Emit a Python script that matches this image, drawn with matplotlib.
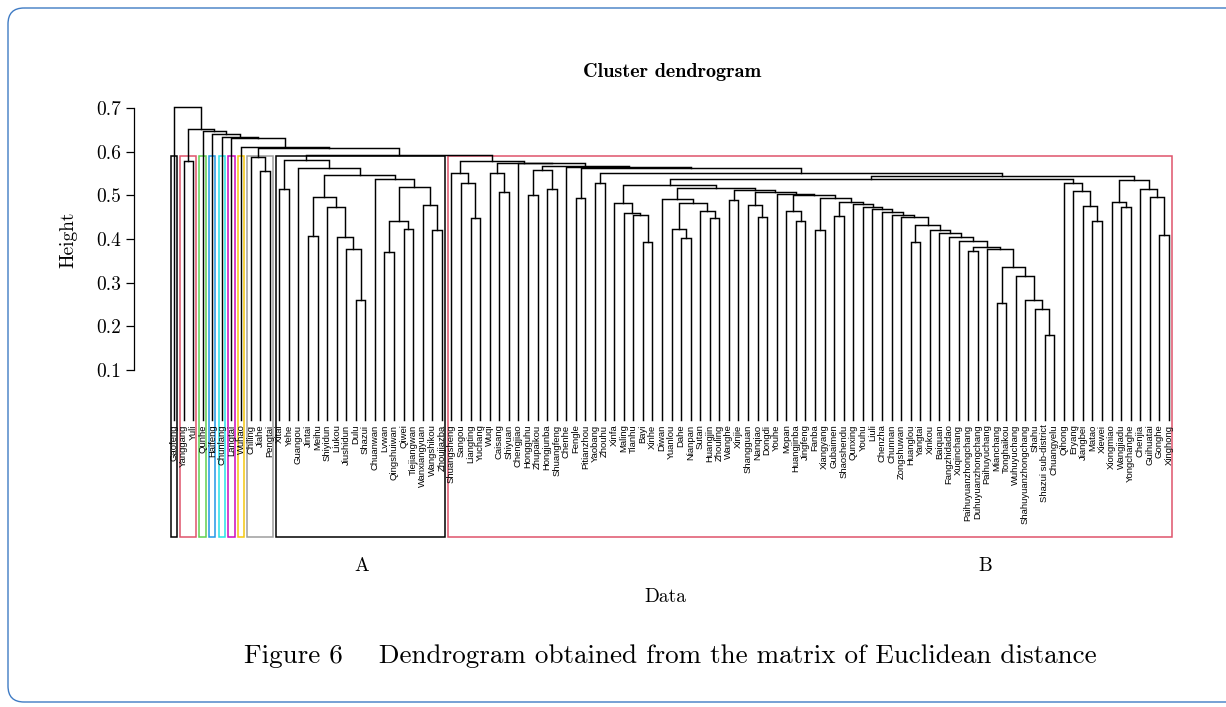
import matplotlib
matplotlib.use("Agg")
import matplotlib.pyplot as plt
from matplotlib.patches import FancyBboxPatch, Rectangle

# leaf order as drawn, left to right
leaves = [
    "Gaofeng", "Yanggang", "Yuli", "Qunhe", "Haifeng", "Chunlang", "Langtai", "Wuhao",
    "Chiling", "Jiahe", "Pengtai",
    "Xitai", "Yehe", "Guangou", "Jintai", "Meihu", "Shiyidun", "Liukou", "Jiushidun",
    "Dulu", "Shazui", "Chuanwan", "Lvwan", "Qingshuiwan", "Qiwei", "Tiejiangwan",
    "Wanxiangyuan", "Wangshikou", "Zhoujiazba",
    "Shuangsheng", "Sangou", "Liangting", "Yuchang", "Wuqi", "Caisang", "Shiyuan",
    "Chengjiao", "Hongguhu", "Zhupaikou", "Hongjunba", "Shuangfeng", "Chenhe", "Fengle",
    "Pitianzhou", "Yaobang", "Zhouhu", "Xinfa", "Maling", "Tianhu", "Bayi", "Xinhe",
    "Diwan", "Yuanlou", "Dahe", "Nianpan", "Sutan", "Huangjin", "Zhouling", "Wanghe",
    "Xinjie", "Shangguan", "Nanqiao", "Dongdi", "Youhe", "Mopan", "Huangjinba",
    "Jingfeng", "Fanba", "Xiangyang", "Gubaimen", "Shaoshendu", "Qunxing", "Youhu",
    "Liuli", "Chenzha", "Chunnan", "Zongshuwan", "Huanglou", "Yangtai", "Xinkou",
    "Baiquan", "Fangzhidadao", "Xuqinchang", "Paihuyuanzhongchang",
    "Duhuyuanzhongchang", "Paihuyuchang", "Mianchang", "Tonghaikou", "Wuhuyuchang",
    "Shahuyuanzhongchang", "Shahu", "Shazui sub-district", "Chuangyelu", "Qihong",
    "Eryang", "Jiangbei", "Matao", "Xiewei", "Xiongmiao", "Wangjiadu", "Yongchanghe",
    "Chenjia", "Guihuatai", "Gonghe", "Xinghong",
]

# merges (node, left, right, height), bottom-up
merges = [
    ("yy", "Yanggang", "Yuli", 0.579),
    ("jp", "Jiahe", "Pengtai", 0.556),
    ("g", "Chiling", "jp", 0.587),
    # cluster A
    ("xy", "Xitai", "Yehe", 0.514),
    ("jm", "Jintai", "Meihu", 0.408),
    ("ds", "Dulu", "Shazui", 0.260),
    ("jds", "Jiushidun", "ds", 0.376),
    ("ljds", "Liukou", "jds", 0.405),
    ("sljds", "Shiyidun", "ljds", 0.474),
    ("a3", "jm", "sljds", 0.497),
    ("lq", "Lvwan", "Qingshuiwan", 0.371),
    ("qt", "Qiwei", "Tiejiangwan", 0.423),
    ("lqqt", "lq", "qt", 0.441),
    ("wz", "Wangshikou", "Zhoujiazba", 0.420),
    ("wwz", "Wanxiangyuan", "wz", 0.477),
    ("a5", "lqqt", "wwz", 0.518),
    ("a4", "Chuanwan", "a5", 0.537),
    ("a2", "a3", "a4", 0.547),
    ("a1", "Guangou", "a2", 0.563),
    ("A", "xy", "a1", 0.581),
    # cluster B
    ("ly", "Liangting", "Yuchang", 0.449),
    ("sly", "Sangou", "ly", 0.528),
    ("l1", "Shuangsheng", "sly", 0.552),
    ("cs", "Caisang", "Shiyuan", 0.508),
    ("wcs", "Wuqi", "cs", 0.552),
    ("hz", "Hongguhu", "Zhupaikou", 0.501),
    ("hs", "Hongjunba", "Shuangfeng", 0.514),
    ("hzhs", "hz", "hs", 0.558),
    ("fp", "Fengle", "Pitianzhou", 0.493),
    ("yz", "Yaobang", "Zhouhu", 0.528),
    ("bx", "Bayi", "Xinhe", 0.394),
    ("tbx", "Tianhu", "bx", 0.454),
    ("mtbx", "Maling", "tbx", 0.459),
    ("r11", "Xinfa", "mtbx", 0.482),
    ("dn", "Dahe", "Nianpan", 0.403),
    ("ydn", "Yuanlou", "dn", 0.423),
    ("hzl", "Huangjin", "Zhouling", 0.449),
    ("shz", "Sutan", "hzl", 0.465),
    ("d2", "ydn", "shz", 0.482),
    ("d", "Diwan", "d2", 0.491),
    ("wx", "Wanghe", "Xinjie", 0.489),
    ("nd", "Nanqiao", "Dongdi", 0.451),
    ("snd", "Shangguan", "nd", 0.479),
    ("hj", "Huangjinba", "Jingfeng", 0.441),
    ("m", "Mopan", "hj", 0.463),
    ("fx", "Fanba", "Xiangyang", 0.421),
    ("gs", "Gubaimen", "Shaoshendu", 0.453),
    ("sc", "Shazui sub-district", "Chuangyelu", 0.180),
    ("q12", "Shahu", "sc", 0.239),
    ("q11", "Shahuyuanzhongchang", "q12", 0.260),
    ("q10", "Wuhuyuchang", "q11", 0.315),
    ("mt", "Mianchang", "Tonghaikou", 0.253),
    ("q9", "mt", "q10", 0.337),
    ("q8", "Paihuyuchang", "q9", 0.376),
    ("pd", "Paihuyuanzhongchang", "Duhuyuanzhongchang", 0.372),
    ("q7", "pd", "q8", 0.381),
    ("q6", "Xuqinchang", "q7", 0.396),
    ("q5", "Fangzhidadao", "q6", 0.404),
    ("q4", "Baiquan", "q5", 0.413),
    ("q3", "Xinkou", "q4", 0.421),
    ("hy", "Huanglou", "Yangtai", 0.394),
    ("q2", "hy", "q3", 0.432),
    ("q1", "Zongshuwan", "q2", 0.451),
    ("w6", "Chunnan", "q1", 0.456),
    ("w5", "Chenzha", "w6", 0.461),
    ("w4", "Liuli", "w5", 0.468),
    ("w3", "Youhu", "w4", 0.474),
    ("w2", "Qunxing", "w3", 0.480),
    ("w", "gs", "w2", 0.485),
    ("v", "fx", "w", 0.495),
    ("u", "m", "v", 0.500),
    ("t", "Youhe", "u", 0.504),
    ("s", "snd", "t", 0.507),
    ("z", "wx", "s", 0.512),
    ("r12", "d", "z", 0.516),
    ("r9", "r11", "r12", 0.524),
    ("mx", "Matao", "Xiewei", 0.441),
    ("jmx", "Jiangbei", "mx", 0.476),
    ("ejmx", "Eryang", "jmx", 0.511),
    ("r10", "Qihong", "ejmx", 0.529),
    ("r7", "r9", "r10", 0.537),
    ("wy", "Wangjiadu", "Yongchanghe", 0.474),
    ("xwy", "Xiongmiao", "wy", 0.485),
    ("gx", "Gonghe", "Xinghong", 0.410),
    ("ggx", "Guihuatai", "gx", 0.497),
    ("cggx", "Chenjia", "ggx", 0.514),
    ("r8", "xwy", "cggx", 0.535),
    ("r6", "r7", "r8", 0.544),
    ("r5", "yz", "r6", 0.552),
    ("r5b", "fp", "r5", 0.562),
    ("r4", "Chenhe", "r5b", 0.565),
    ("r3", "hzhs", "r4", 0.567),
    ("r2", "Chengjiao", "r3", 0.573),
    ("r1", "wcs", "r2", 0.575),
    ("B", "l1", "r1", 0.579),
    ("ab", "A", "B", 0.592),
    # chain of single outliers
    ("n8", "g", "ab", 0.608),
    ("n7", "Wuhao", "n8", 0.611),
    ("n6", "Langtai", "n7", 0.632),
    ("n5", "Chunlang", "n6", 0.634),
    ("n4", "Haifeng", "n5", 0.640),
    ("n3", "Qunhe", "n4", 0.648),
    ("n2", "yy", "n3", 0.653),
    ("root", "Gaofeng", "n2", 0.703),
]

# rect.hclust boxes (k = 10)
cluster_sizes = [1, 2, 1, 1, 1, 1, 1, 3, 18, 76]
cluster_colors = ["black", "#DF536B", "#61D04F", "#2297E6", "#28E2E5",
                  "#CD0BBC", "#F5C710", "#9E9E9E", "black", "#DF536B"]
box_top = 0.5895

yticks = [0.1, 0.2, 0.3, 0.4, 0.5, 0.6, 0.7]
ytick_labels = ["0.1", "0.2", "0.3", "0.4", "0.5", "0.6", "0.7"]

W, H = 1226, 707
fig = plt.figure(figsize=(W / 100, H / 100), dpi=100)

# background layer in pixel units for the rounded frame and free text
bg = fig.add_axes([0, 0, 1, 1])
bg.set_xlim(0, W)
bg.set_ylim(H, 0)
bg.axis("off")
bg.add_patch(FancyBboxPatch((8, 8), 1300, 694, boxstyle="round,pad=0,rounding_size=16",
                            fill=False, edgecolor="#3f7bc4", lw=1.0))

# plot region: x=1 at px 174, x=105 at px 1169; y 0.7 at px 108, 0.1 at px 370
left_px, right_px, top_px, bot_px = 134, 1209, 90, 537
ax = fig.add_axes([left_px / W, 1 - bot_px / H, (right_px - left_px) / W, (bot_px - top_px) / H])
sx = (1169 - 174) / 104
sy = (370 - 108) / 0.6
ax.set_xlim(1 - (174 - left_px) / sx, 105 + (right_px - 1169) / sx)
ax.set_ylim(0.7 - (bot_px - 108) / sy, 0.7 + (108 - top_px) / sy)
ax.patch.set_alpha(0)

leaf_bottom = -0.015
pos = {name: i + 1 for i, name in enumerate(leaves)}
hgt = {name: leaf_bottom for name in leaves}
for node, l, r, h in merges:
    ax.plot([pos[l], pos[l], pos[r], pos[r]], [hgt[l], h, h, hgt[r]],
            color="black", lw=1.05, solid_joinstyle="miter")
    pos[node] = (pos[l] + pos[r]) / 2
    hgt[node] = h

for name in leaves:
    ax.text(pos[name], -0.025, name, rotation=90, ha="center", va="top",
            fontsize=6.8, family="Liberation Sans")

start = 1
ybot = ax.get_ylim()[0]
for size, col in zip(cluster_sizes, cluster_colors):
    end = start + size - 1
    ax.add_patch(Rectangle((start - 0.34, ybot), end + 0.33 - (start - 0.34), box_top - ybot,
                           fill=False, edgecolor=col, lw=1.1, clip_on=False))
    start = end + 1

for side in ["top", "right", "bottom"]:
    ax.spines[side].set_visible(False)
ax.spines["left"].set_bounds(0.1, 0.7)
ax.spines["left"].set_linewidth(0.9)
ax.set_xticks([])
ax.set_yticks(yticks)
ax.set_yticklabels(ytick_labels, family="cmr10", fontsize=14)
ax.tick_params(axis="y", length=6, width=0.9, pad=3)

serif = "cmr10"
bg.text(672, 72, "Cluster dendrogram", ha="center", va="center", family="cmb10", fontsize=14.5)
bg.text(68, 240, "Height", ha="center", va="center", rotation=90, family=serif, fontsize=14)
bg.text(362, 566, "A", ha="center", va="center", family=serif, fontsize=14)
bg.text(985, 566, "B", ha="center", va="center", family=serif, fontsize=14)
bg.text(665, 597, "Data", ha="center", va="center", family=serif, fontsize=14)
bg.text(670, 656, "Figure 6    Dendrogram obtained from the matrix of Euclidean distance",
        ha="center", va="center", family=serif, fontsize=19.5)

fig.savefig("out.png", dpi=100)
